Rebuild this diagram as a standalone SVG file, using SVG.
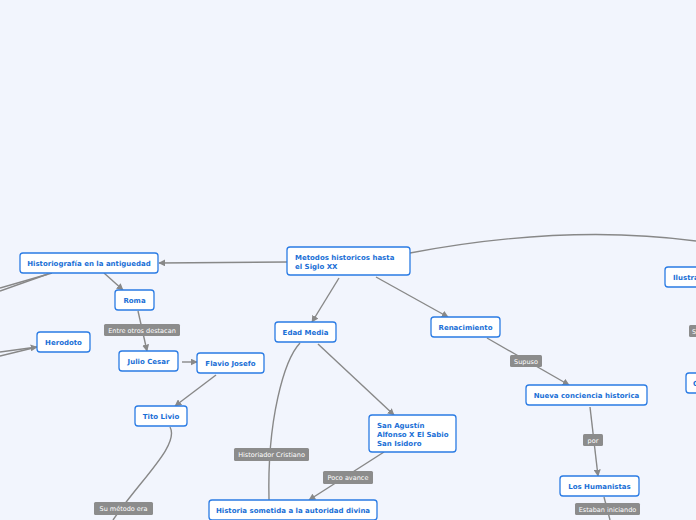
<svg xmlns="http://www.w3.org/2000/svg" width="696" height="520" viewBox="0 0 696 520">
<defs>
<marker id="ah" viewBox="0 0 10 10" refX="9" refY="5" markerWidth="7" markerHeight="7" markerUnits="userSpaceOnUse" orient="auto"><path d="M0,0 L10,5 L0,10 z" fill="#888"/></marker>
<style>
.n rect{fill:#fff;stroke:#2a7be4;stroke-width:1.3}
.n text{font-family:"DejaVu Sans",Verdana,sans-serif;font-weight:bold;font-size:7px;fill:#1a6fd6}
.l rect{fill:#8c8c8c}
.l text{font-family:"DejaVu Sans",Verdana,sans-serif;font-size:6.5px;fill:#fff}
.c path,.c line{stroke:#888;stroke-width:1.4;fill:none}
.a{marker-end:url(#ah)}
</style>
</defs>
<rect width="696" height="520" fill="#f2f5fd"/>
<g class="c" id="connectors">
<line class="a" x1="287" y1="262" x2="159" y2="263"/>
<line class="a" x1="339" y1="278" x2="312" y2="322"/>
<line class="a" x1="376" y1="277" x2="448" y2="317"/>
<path d="M410,253 C500,236 600,228 696,241"/>
<line class="a" x1="104" y1="273" x2="123" y2="290"/>
<line x1="52" y1="273" x2="0" y2="288"/>
<line x1="48" y1="274" x2="0" y2="291"/>
<line class="a" x1="138" y1="311" x2="147" y2="351"/>
<line class="a" x1="182" y1="362" x2="197" y2="362"/>
<line class="a" x1="216" y1="375" x2="175" y2="406"/>
<path d="M170,427 C180,445 140,480 113,520"/>
<line class="a" x1="0" y1="352" x2="37" y2="347"/>
<line x1="0" y1="356" x2="37" y2="347"/>
<path d="M300,343 C284,360 267,420 269,500"/>
<line class="a" x1="318" y1="344" x2="394" y2="415"/>
<line class="a" x1="384" y1="452" x2="309" y2="500"/>
<line class="a" x1="487" y1="338" x2="569" y2="385"/>
<line class="a" x1="590" y1="407" x2="598" y2="476"/>
<line x1="604" y1="497" x2="610" y2="520"/>
</g>
<g class="n" id="metodos"><rect x="287" y="247" width="123" height="28" rx="3"/><text x="295" y="260">Metodos historicos hasta</text><text x="295" y="268.5">el Siglo XX</text></g>
<g class="n" id="historiografia"><rect x="20" y="253" width="138" height="20" rx="3"/><text x="89" y="266" text-anchor="middle">Historiografía en la antiguedad</text></g>
<g class="n" id="roma"><rect x="115" y="290" width="39" height="20" rx="3"/><text x="134.5" y="303" text-anchor="middle">Roma</text></g>
<g class="n" id="julio"><rect x="119" y="351" width="59" height="20" rx="3"/><text x="148.5" y="364" text-anchor="middle">Julio Cesar</text></g>
<g class="n" id="flavio"><rect x="197" y="353" width="67" height="20" rx="3"/><text x="230.5" y="366" text-anchor="middle">Flavio Josefo</text></g>
<g class="n" id="tito"><rect x="135" y="406" width="52" height="20" rx="3"/><text x="161" y="419" text-anchor="middle">Tito Livio</text></g>
<g class="n" id="herodoto"><rect x="37" y="332" width="53" height="20" rx="3"/><text x="63.5" y="345" text-anchor="middle">Herodoto</text></g>
<g class="n" id="edad"><rect x="275" y="322" width="61" height="20" rx="3"/><text x="305.5" y="335" text-anchor="middle">Edad Media</text></g>
<g class="n" id="renacimiento"><rect x="431" y="317" width="69" height="20" rx="3"/><text x="465.5" y="330" text-anchor="middle">Renacimiento</text></g>
<g class="n" id="nueva"><rect x="526" y="385" width="121" height="20" rx="3"/><text x="586.5" y="398" text-anchor="middle">Nueva conciencia historica</text></g>
<g class="n" id="humanistas"><rect x="560" y="476" width="79" height="20" rx="3"/><text x="599.5" y="489" text-anchor="middle">Los Humanistas</text></g>
<g class="n" id="sanagustin"><rect x="369" y="415" width="87" height="37" rx="3"/><text x="377" y="428">San Agustín</text><text x="377" y="437">Alfonso X El Sabio</text><text x="377" y="446">San Isidoro</text></g>
<g class="n" id="historia"><rect x="209" y="500" width="168" height="20" rx="3"/><text x="293" y="513" text-anchor="middle">Historia sometida a la autoridad divina</text></g>
<g class="n" id="ilustr"><rect x="665" y="267" width="40" height="20" rx="3"/><text x="673" y="280">Ilustración</text></g>
<g class="n" id="cnode"><rect x="686" y="373" width="30" height="20" rx="3"/><text x="693" y="386">C</text></g>
<g class="l" id="l1"><rect x="104" y="324" width="76" height="12" rx="1.5"/><text x="142" y="332.5" text-anchor="middle">Entre otros destacan</text></g>
<g class="l" id="l2"><rect x="510" y="355" width="32" height="12" rx="1.5"/><text x="526" y="363.5" text-anchor="middle">Supuso</text></g>
<g class="l" id="l3"><rect x="583" y="434" width="20" height="12" rx="1.5"/><text x="593" y="442.5" text-anchor="middle">por</text></g>
<g class="l" id="l4"><rect x="575" y="503" width="65" height="12" rx="1.5"/><text x="607.5" y="511.5" text-anchor="middle">Estaban iniciando</text></g>
<g class="l" id="l5"><rect x="323" y="471" width="50" height="13" rx="1.5"/><text x="348" y="480" text-anchor="middle">Poco avance</text></g>
<g class="l" id="l6"><rect x="234" y="448" width="75" height="13" rx="1.5"/><text x="271.5" y="457" text-anchor="middle">Historiador Cristiano</text></g>
<g class="l" id="l7"><rect x="94" y="502" width="59" height="13" rx="1.5"/><text x="123.5" y="511" text-anchor="middle">Su método era</text></g>
<g class="l" id="l8"><rect x="689" y="325" width="12" height="12" rx="1.5"/><text x="692" y="333.5">S</text></g>
</svg>
